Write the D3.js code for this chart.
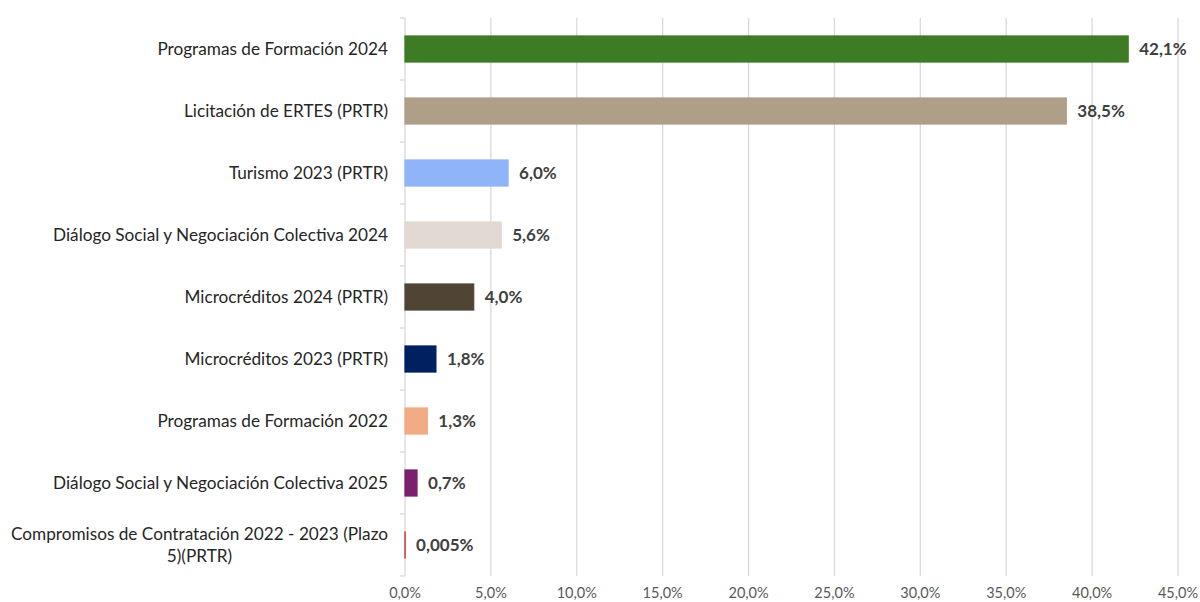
<!DOCTYPE html>
<html><head><meta charset="utf-8">
<script src="https://cdn.jsdelivr.net/npm/d3@7"></script>
<style>body{margin:0;background:#fff;}svg{display:block;}</style>
</head><body>
<svg id="c" width="1200" height="602"></svg>
<script>
const categories = [
  ["Programas de Formación 2024"],
  ["Licitación de ERTES (PRTR)"],
  ["Turismo 2023 (PRTR)"],
  ["Diálogo Social y Negociación Colectiva 2024"],
  ["Microcréditos 2024 (PRTR)"],
  ["Microcréditos 2023 (PRTR)"],
  ["Programas de Formación 2022"],
  ["Diálogo Social y Negociación Colectiva 2025"],
  ["Compromisos de Contratación 2022 - 2023 (Plazo", "5)(PRTR)"]
];
const values = [42.1, 38.5, 6.0, 5.6, 4.0, 1.8, 1.3, 0.7, 0.005];
const valueLabels = ["42,1%","38,5%","6,0%","5,6%","4,0%","1,8%","1,3%","0,7%","0,005%"];
const colors = ["#3d7b25","#af9f89","#8fb4f7","#e1d9d2","#504535","#002060","#f3ab86","#7b206f","#c0272d"];
const xTicks = [0,5,10,15,20,25,30,35,40,45];
const xTickLabels = ["0,0%","5,0%","10,0%","15,0%","20,0%","25,0%","30,0%","35,0%","40,0%","45,0%"];

const svg = d3.select("#c");
const font = "Lato, 'Open Sans', sans-serif";
const x = d3.scaleLinear().domain([0,45]).range([405,1178]);
const y = d3.scaleBand().domain(d3.range(categories.length)).range([18,576]).paddingInner(0.58).paddingOuter(0.29);

// gridlines
svg.append("g").selectAll("line").data(xTicks.slice(1)).join("line")
  .attr("x1",d=>x(d)).attr("x2",d=>x(d)).attr("y1",18).attr("y2",576)
  .attr("stroke","#d9d9d9").attr("stroke-width",1.3);

// y axis line and ticks
svg.append("line").attr("x1",x(0)).attr("x2",x(0)).attr("y1",18).attr("y2",576)
  .attr("stroke","#d9d9d9").attr("stroke-width",1.3);
const step = y.step();
svg.append("g").selectAll("line").data(d3.range(categories.length+1)).join("line")
  .attr("x1",x(0)-5).attr("x2",x(0))
  .attr("y1",d=>18+d*step).attr("y2",d=>18+d*step)
  .attr("stroke","#d9d9d9").attr("stroke-width",1.3);

// bars
svg.append("g").selectAll("rect").data(values).join("rect")
  .attr("x",x(0)).attr("y",(d,i)=>y(i))
  .attr("width",d=>x(d)-x(0)).attr("height",y.bandwidth())
  .attr("fill",(d,i)=>colors[i]).attr("stroke",(d,i)=>colors[i]).attr("stroke-width",1.2);

// value labels
svg.append("g").selectAll("text").data(values).join("text")
  .attr("x",d=>x(d)+11).attr("y",(d,i)=>y(i)+y.bandwidth()/2)
  .attr("dy","0.35em")
  .attr("font-family",font).attr("font-size",17).attr("font-weight","bold")
  .attr("fill","#404040").text((d,i)=>valueLabels[i]);

// category labels
const cg = svg.append("g");
categories.forEach((lines,i)=>{
  const cy = y(i)+y.bandwidth()/2;
  if(lines.length===1){
    cg.append("text").attr("x",388).attr("y",cy).attr("dy","0.35em")
      .attr("text-anchor","end").attr("font-family",font).attr("font-size",17.2)
      .attr("fill","#262626").text(lines[0]);
  } else {
    const t = cg.append("text").attr("font-family",font).attr("font-size",17.2)
      .attr("fill","#262626").attr("text-anchor","middle");
    const tmp = t.append("tspan").text(lines[0]);
    const w = tmp.node().getComputedTextLength();
    tmp.remove();
    const cx = 388 - w/2;
    lines.forEach((l,k)=>{
      t.append("tspan").attr("x",cx).attr("y",cy + (k-(lines.length-1)/2)*22).attr("dy","0.35em").text(l);
    });
  }
});

// x tick labels
svg.append("g").selectAll("text").data(xTicks).join("text")
  .attr("x",d=>x(d)).attr("y",598).attr("text-anchor","middle")
  .attr("font-family",font).attr("font-size",14.5).attr("fill","#595959")
  .text((d,i)=>xTickLabels[i]);
</script>
</body></html>
